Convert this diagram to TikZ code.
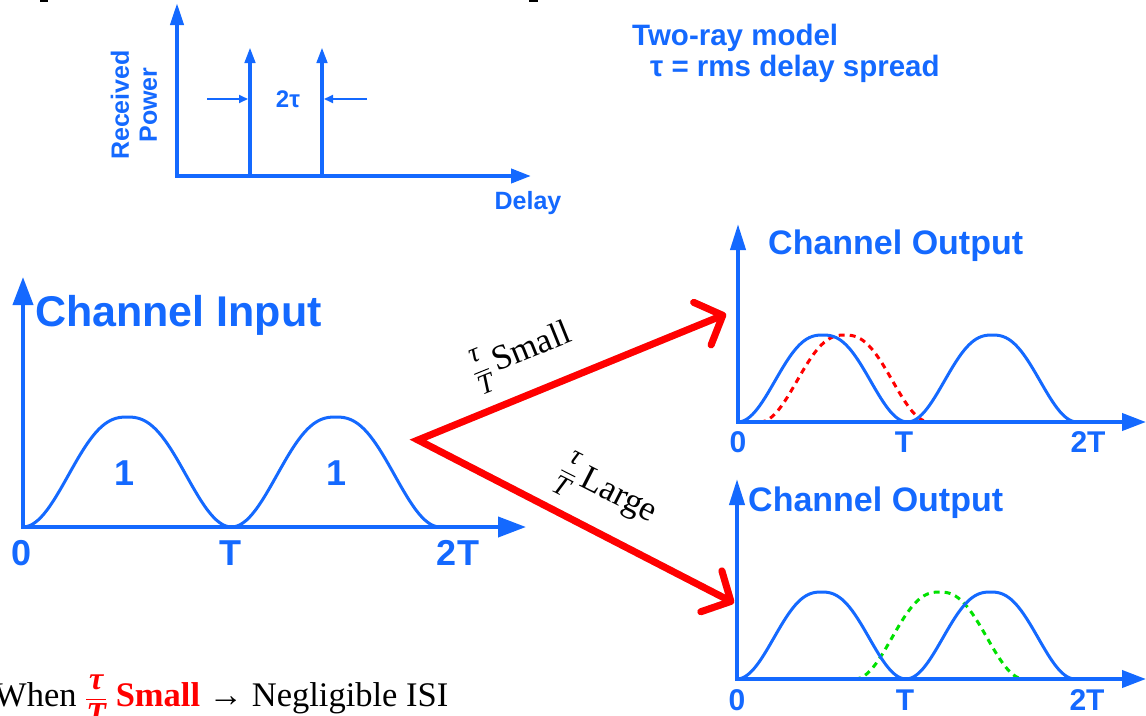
\documentclass[tikz,border=0pt]{standalone}
\usepackage{amsmath}
\usepackage{fontspec}
\setmainfont{Liberation Serif}
\newfontfamily\arial{Liberation Sans}
\usetikzlibrary{arrows.meta}
\definecolor{pblue}{RGB}{20,105,255}
\definecolor{pred}{RGB}{255,0,0}
\definecolor{pgreen}{RGB}{0,225,0}
\newcommand\fs[1]{\fontsize{#1}{#1}\selectfont}
\newcommand\myfrac[3]{$\dfrac{\mbox{\fs{#1}#2}}{\mbox{\fs{#1}#3}}$}
% pulse: x0, y0, T, A
\newcommand\pulse[4]{plot[domain=0:1,samples=70,variable=\u]
  ({#1+#3*\u},{#2-#4*(1-cos(180*\u)^2*sqrt(abs(cos(180*\u))))})}
\begin{document}
\begin{tikzpicture}[x=1pt,y=-1pt,
  axis/.style={pblue,line width=4pt,line join=miter},
  pulseline/.style={pblue,line width=3pt},
  reddash/.style={pred,line width=3pt,dash pattern=on 6pt off 5pt},
  greendash/.style={pgreen,line width=3pt,dash pattern=on 6pt off 5pt},
  btext/.style={text=pblue,font=\arial\bfseries,inner sep=0pt},
  redarrow/.style={pred,line width=7pt,line join=miter,
    {Straight Barb[length=22pt,width=46pt,round]}-{Straight Barb[length=22pt,width=46pt,round]}},
  shadowarrow/.style={black,opacity=0.18,line width=7pt,line join=miter,
    {Straight Barb[length=22pt,width=46pt,round]}-{Straight Barb[length=22pt,width=46pt,round]}}
]
\useasboundingbox (0,0) rectangle (1146,715);
\clip (0,0) rectangle (1146,715);

% tiny fragments at top edge
\fill[black] (40,0) rectangle (48,2);
\fill[black] (529,0) rectangle (538,2);

% ---------- top chart: two-ray model ----------
\coordinate (o1) at (177,176);
\coordinate (o1y) at (177,3);
\coordinate (o1x) at (531,176);
\draw[axis,{Triangle[length=22pt,width=13pt]}-{Triangle[length=20pt,width=14pt]}] (o1y) -- (o1) -- (o1x);
\coordinate (s1b) at (250,176); \coordinate (s1t) at (250,47);
\coordinate (s2b) at (322,176); \coordinate (s2t) at (322,47);
\draw[axis,-{Triangle[length=16pt,width=10pt]}] (s1b) -- (s1t);
\draw[axis,-{Triangle[length=16pt,width=10pt]}] (s2b) -- (s2t);
\coordinate (a1s) at (207,99); \coordinate (a1e) at (248,99);
\coordinate (a2s) at (367,99); \coordinate (a2e) at (324,99);
\draw[pblue,line width=2pt,-{Triangle[length=9pt,width=8pt]}] (a1s) -- (a1e);
\draw[pblue,line width=2pt,-{Triangle[length=9pt,width=8pt]}] (a2s) -- (a2e);
\node[btext,font=\arial\bfseries\fs{24}] (twotau) at (288,99) {2τ};
\node[btext,font=\arial\bfseries\fontsize{25}{28}\selectfont,rotate=90,align=center] (rp) at (134,105) {Received\\Power};
\node[btext,font=\arial\bfseries\fs{25}] (delay) at (528,203) {Delay};
\node[btext,font=\arial\bfseries\fs{29.5}, anchor=base west] (tr) at (632,45) {Two-ray model};
\node[btext,font=\arial\bfseries\fs{29.5}, anchor=base west] (rms) at (650,76) {τ = rms delay spread};

% ---------- channel input ----------
\coordinate (o2) at (23,527);
\coordinate (o2y) at (23,277);
\coordinate (o2x) at (526,527);
\draw[pulseline] \pulse{23}{527}{208.5}{110};
\draw[pulseline] \pulse{231.5}{527}{208.5}{110};
\draw[axis,{Triangle[length=28pt,width=20pt]}-{Triangle[length=28pt,width=20pt]}] (o2y) -- (o2) -- (o2x);
\node[btext,font=\arial\bfseries\fs{43},anchor=base west] (cin) at (35,326) {Channel Input};
\node[btext,font=\arial\bfseries\fs{36}] (one1) at (125,473) {1};
\node[btext,font=\arial\bfseries\fs{36}] (one2) at (337,473) {1};
\node[btext,font=\arial\bfseries\fs{36}] (z2) at (22,553) {0};
\node[btext,font=\arial\bfseries\fs{36}] (t2) at (230,553) {T};
\node[btext,font=\arial\bfseries\fs{36}] (tt2) at (458,553) {2T};

% ---------- channel output (small) ----------
\coordinate (o3) at (738,422);
\coordinate (o3y) at (738,224);
\coordinate (o3x) at (1146,422);
\draw[reddash] \pulse{760}{422}{169.5}{87};
\draw[pulseline] \pulse{738}{422}{169.5}{87};
\draw[pulseline] \pulse{907.5}{422}{169.5}{87};
\draw[axis,{Triangle[length=26pt,width=15pt]}-{Triangle[length=24pt,width=17pt]}] (o3y) -- (o3) -- (o3x);
\node[btext,font=\arial\bfseries\fs{34},anchor=base west] (cout1) at (768,254) {Channel Output};
\node[btext,font=\arial\bfseries\fs{30}] (z3) at (738,442) {0};
\node[btext,font=\arial\bfseries\fs{30}] (t3) at (904,442) {T};
\node[btext,font=\arial\bfseries\fs{30}] (tt3) at (1088,442) {2T};

% ---------- channel output (large) ----------
\coordinate (o4) at (737,679);
\coordinate (o4y) at (737,479);
\coordinate (o4x) at (1146,679);
\draw[greendash] \pulse{855}{679}{169}{87};
\draw[pulseline] \pulse{737}{679}{169}{87};
\draw[pulseline] \pulse{906}{679}{169}{87};
\draw[axis,{Triangle[length=26pt,width=15pt]}-{Triangle[length=24pt,width=17pt]}] (o4y) -- (o4) -- (o4x);
\node[btext,font=\arial\bfseries\fs{34},anchor=base west] (cout2) at (748,511) {Channel Output};
\node[btext,font=\arial\bfseries\fs{30}] (z4) at (737,700) {0};
\node[btext,font=\arial\bfseries\fs{30}] (t4) at (905,700) {T};
\node[btext,font=\arial\bfseries\fs{30}] (tt4) at (1087,700) {2T};

% ---------- red arrows ----------
\coordinate (v) at (418,440);
\coordinate (ra) at (726,314);
\coordinate (rb) at (734,603);
\begin{scope}[shift={(2,3)}]
\draw[shadowarrow] (ra) -- (v) -- (rb);
\end{scope}
\draw[redarrow] (ra) -- (v) -- (rb);
\node[rotate=22,font=\fs{35},inner sep=0pt] (lsmall) at (522,355)
  {\myfrac{28}{\itshape τ}{\itshape T}\,Small};
\node[rotate=-27,font=\fs{35},inner sep=0pt] (llarge) at (607,493)
  {\myfrac{28}{\itshape τ}{\itshape T}\,Large};

% ---------- bottom text ----------
\node[font=\fs{34.5},anchor=base west,inner sep=0pt] (when) at (-6,706)
  {When {\color{pred}\myfrac{32}{\bfseries\itshape τ}{\bfseries\itshape T} \textbf{Small}} → Negligible ISI};
\end{tikzpicture}
\end{document}
